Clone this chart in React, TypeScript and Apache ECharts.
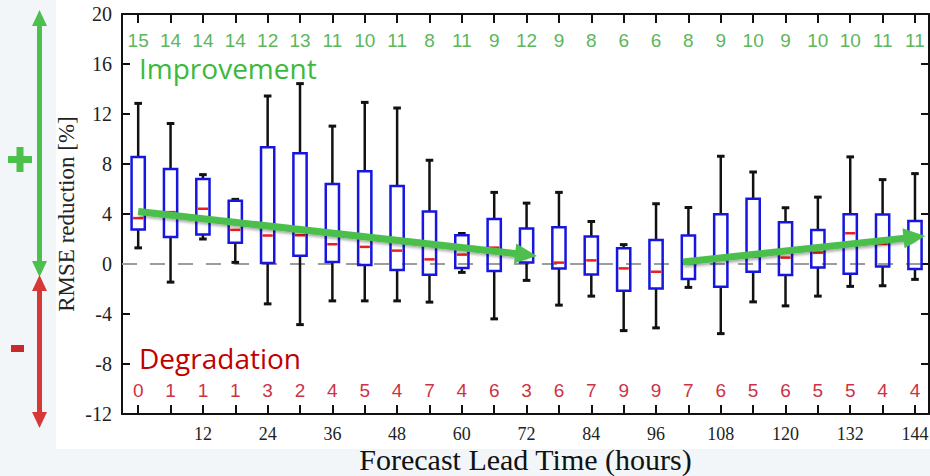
import React, { useEffect, useRef } from "react";
import * as echarts from "echarts";

// ---- data ----
const hours = [0, 6, 12, 18, 24, 30, 36, 42, 48, 54, 60, 66, 72, 78, 84, 90, 96, 102, 108, 114, 120, 126, 132, 138, 144];
const whiskerHigh = [12.85, 11.24, 7.15, 5.17, 13.44, 14.43, 11.03, 12.93, 12.48, 8.3, 2.44, 5.73, 4.87, 5.73, 3.4, 1.55, 4.82, 4.52, 8.62, 7.36, 4.5, 5.35, 8.57, 6.75, 7.23];
const upperQuartile = [8.57, 7.6, 6.8, 5.06, 9.34, 8.86, 6.4, 7.42, 6.24, 4.2, 2.3, 3.61, 2.84, 2.95, 2.2, 1.26, 1.93, 2.28, 3.99, 5.22, 3.35, 2.73, 3.99, 3.96, 3.45];
const medians = [3.67, 4.15, 4.42, 2.73, 2.28, 2.3, 1.58, 1.37, 1.07, 0.37, 0.75, 1.31, 0.7, 0.11, 0.29, -0.35, -0.62, 0.2, 0.5, 0.59, 0.51, 0.91, 2.46, 1.6, 2.2];
const lowerQuartile = [2.76, 2.17, 2.36, 1.71, 0.08, 0.67, 0.16, -0.08, -0.48, -0.86, -0.32, -0.56, 0.13, -0.35, -0.83, -2.14, -1.95, -1.2, -1.82, -0.62, -0.88, -0.27, -0.78, -0.19, -0.4];
const whiskerLow = [1.29, -1.45, 2.0, 0.13, -3.19, -4.85, -2.95, -2.95, -2.95, -3.05, -0.67, -4.39, -1.31, -3.29, -2.57, -5.33, -5.11, -1.87, -5.57, -3.03, -3.35, -2.57, -1.79, -1.74, -1.23];
const improvementCounts = [15, 14, 14, 14, 12, 13, 11, 10, 11, 8, 11, 9, 12, 9, 8, 6, 6, 8, 9, 10, 9, 10, 10, 11, 11];
const degradationCounts = [0, 1, 1, 1, 3, 2, 4, 5, 4, 7, 4, 6, 3, 6, 7, 9, 9, 7, 6, 5, 6, 5, 5, 4, 4];
const xTickLabels = [12, 24, 36, 48, 60, 72, 84, 96, 108, 120, 132, 144];
const trendDown = [[0, 4.2], [71.9, 0.74]];
const trendUp = [[101, 0.16], [143.9, 2.15]];

const X_MIN = -3;
const X_MAX = 146.6;
const IMPROVE_ROW = 17.9;
const DEGRADE_ROW = -10.15;
const BOX_HOURS = 2.45;

const SERIF = "Liberation Serif";
const SANS = "Liberation Sans";

export default function App() {
  const ref = useRef<HTMLDivElement>(null);

  useEffect(() => {
    if (!ref.current) return;
    const chart = echarts.init(ref.current, null, { renderer: "svg" });

    const boxData = hours.map((h, i) => [h, whiskerLow[i], lowerQuartile[i], medians[i], upperQuartile[i], whiskerHigh[i]]);

    const countSeries = (counts: number[], row: number, color: string, name: string) => ({
      type: "custom",
      name,
      xAxisIndex: 0,
      yAxisIndex: 0,
      data: hours.map((h, i) => [h, row, counts[i]]),
      encode: { x: 0, y: 1 },
      z: 5,
      silent: true,
      renderItem: (params: any, api: any) => {
        const p = api.coord([api.value(0), api.value(1)]);
        return {
          type: "text",
          style: {
            text: String(api.value(2)),
            x: p[0],
            y: p[1],
            align: "center",
            verticalAlign: "middle",
            fill: color,
            fontSize: 19,
            lineHeight: 16,
            fontFamily: SANS,
          },
        };
      },
    });

    const axisLineStyle = { color: "#111", width: 2 };

    const option: any = {
      animation: false,
      grid: { left: 122, right: 1, top: 14, bottom: 62, containLabel: false, outerBoundsMode: "none" },
      xAxis: [
        {
          type: "value",
          position: "bottom",
          min: X_MIN,
          max: X_MAX,
          axisLine: { show: true, onZero: false, lineStyle: axisLineStyle },
          axisTick: { show: true, inside: true, length: 9, customValues: hours, lineStyle: { color: "#111", width: 2 } },
          axisLabel: { show: true, customValues: xTickLabels, margin: 11, color: "#222", fontFamily: SERIF, fontSize: 18 },
          splitLine: { show: false },
          name: "Forecast Lead Time (hours)",
          nameLocation: "middle",
          nameGap: 30,
          nameMoveOverlap: false,
          nameTextStyle: { fontFamily: SERIF, fontSize: 30, lineHeight: 30, color: "#111" },
        },
        {
          type: "value",
          position: "top",
          min: X_MIN,
          max: X_MAX,
          axisLine: { show: true, onZero: false, lineStyle: axisLineStyle },
          axisTick: { show: true, inside: true, length: 9, customValues: hours, lineStyle: { color: "#111", width: 2 } },
          axisLabel: { show: false },
          splitLine: { show: false },
        },
      ],
      yAxis: [
        {
          type: "value",
          position: "left",
          min: -12,
          max: 20,
          interval: 4,
          axisLine: { show: true, onZero: false, lineStyle: axisLineStyle },
          axisTick: { show: true, inside: true, length: 8, lineStyle: { color: "#111", width: 2 } },
          axisLabel: { show: true, margin: 10, color: "#222", fontFamily: SERIF, fontSize: 20 },
          splitLine: { show: false },
          name: "RMSE reduction [%]",
          nameLocation: "middle",
          nameRotate: 90,
          nameGap: 44,
          nameMoveOverlap: false,
          nameTextStyle: { fontFamily: SERIF, fontSize: 23, color: "#222" },
        },
        {
          type: "value",
          position: "right",
          min: -12,
          max: 20,
          interval: 4,
          axisLine: { show: true, onZero: false, lineStyle: axisLineStyle },
          axisTick: { show: true, inside: true, length: 8, lineStyle: { color: "#111", width: 2 } },
          axisLabel: { show: false },
          splitLine: { show: false },
        },
      ],
      series: [
        {
          type: "line",
          name: "zero",
          xAxisIndex: 0,
          yAxisIndex: 0,
          data: [[X_MIN, 0], [X_MAX, 0]],
          symbol: "none",
          silent: true,
          z: 1,
          lineStyle: { color: "#9c9c9c", width: 2, type: [15, 13] },
        },
        {
          type: "custom",
          name: "boxes",
          xAxisIndex: 0,
          yAxisIndex: 0,
          data: boxData,
          encode: { x: 0, y: [1, 2, 3, 4, 5] },
          z: 3,
          silent: true,
          renderItem: (params: any, api: any) => {
            const x = api.value(0);
            const lo = api.coord([x, api.value(1)]);
            const q1 = api.coord([x, api.value(2)]);
            const md = api.coord([x, api.value(3)]);
            const q3 = api.coord([x, api.value(4)]);
            const hi = api.coord([x, api.value(5)]);
            const w = api.size([BOX_HOURS, 0])[0];
            const cx = hi[0];
            const black = { stroke: "#111", lineWidth: 2.5 };
            return {
              type: "group",
              children: [
                { type: "line", shape: { x1: cx, y1: hi[1], x2: cx, y2: q3[1] }, style: black },
                { type: "line", shape: { x1: cx, y1: q1[1], x2: cx, y2: lo[1] }, style: black },
                { type: "line", shape: { x1: cx - 3.8, y1: hi[1], x2: cx + 3.8, y2: hi[1] }, style: { stroke: "#111", lineWidth: 3 } },
                { type: "line", shape: { x1: cx - 3.8, y1: lo[1], x2: cx + 3.8, y2: lo[1] }, style: { stroke: "#111", lineWidth: 3 } },
                {
                  type: "rect",
                  shape: { x: cx - w / 2, y: q3[1], width: w, height: q1[1] - q3[1] },
                  style: { fill: "none", stroke: "#1616e0", lineWidth: 2.5 },
                },
                {
                  type: "line",
                  shape: { x1: cx - w / 2 + 1.5, y1: md[1], x2: cx + w / 2 - 1.5, y2: md[1] },
                  style: { stroke: "#ee1c1c", lineWidth: 2.5 },
                },
              ],
            };
          },
        },
        countSeries(improvementCounts, IMPROVE_ROW, "#5cb65c", "improved"),
        countSeries(degradationCounts, DEGRADE_ROW, "#cc3344", "degraded"),
        {
          type: "line",
          name: "trends",
          xAxisIndex: 0,
          yAxisIndex: 0,
          data: [],
          z: 6,
          markLine: {
            silent: true,
            animation: false,
            symbol: ["none", "triangle"],
            symbolSize: [20, 22],
            label: { show: false },
            lineStyle: {
              color: "#4cbf4c",
              width: 7,
              type: "solid",
              shadowBlur: 3,
              shadowColor: "rgba(0,0,0,0.35)",
              shadowOffsetY: 2,
              shadowOffsetX: 1,
            },
            emphasis: { disabled: true },
            data: [
              [{ coord: trendDown[0] }, { coord: trendDown[1] }],
              [{ coord: trendUp[0] }, { coord: trendUp[1] }],
            ],
          },
        },
      ],
      graphic: [
        {
          type: "text",
          left: 139,
          top: 53,
          style: { text: "Improvement", fill: "#3cb93c", fontSize: 28, lineHeight: 30, fontFamily: "Open Sans" },
        },
        {
          type: "text",
          left: 139,
          top: 343,
          style: { text: "Degradation", fill: "#c00000", fontSize: 28, lineHeight: 30, fontFamily: "Open Sans" },
        },
        // green up/down arrow
        { type: "line", shape: { x1: 39.5, y1: 22, x2: 39.5, y2: 264 }, style: { stroke: "#4cbf4c", lineWidth: 5 } },
        { type: "polygon", shape: { points: [[39.5, 10], [32, 26], [47, 26]] }, style: { fill: "#4cbf4c" } },
        { type: "polygon", shape: { points: [[39.5, 277], [32, 261], [47, 261]] }, style: { fill: "#4cbf4c" } },
        // red up/down arrow
        { type: "line", shape: { x1: 39.5, y1: 288, x2: 39.5, y2: 416 }, style: { stroke: "#d63838", lineWidth: 5 } },
        { type: "polygon", shape: { points: [[39.5, 275], [32, 291], [47, 291]] }, style: { fill: "#d63838" } },
        { type: "polygon", shape: { points: [[39.5, 428], [32, 412], [47, 412]] }, style: { fill: "#d63838" } },
        // plus sign
        { type: "rect", shape: { x: 8, y: 156, width: 24, height: 7 }, style: { fill: "#4cbf4c" } },
        { type: "rect", shape: { x: 16.5, y: 147, width: 7, height: 25 }, style: { fill: "#4cbf4c" } },
        // minus sign
        { type: "rect", shape: { x: 11, y: 345, width: 13, height: 7 }, style: { fill: "#c82a2a" } },
      ],
    };

    chart.setOption(option);
    return () => chart.dispose();
  }, []);

  return (
    <div style={{ position: "fixed", left: 0, top: 0, width: 930, height: 476, background: "#f2f6f8", overflow: "hidden" }}>
      <div style={{ position: "absolute", left: 56, top: 0, width: 874, height: 449, background: "#ffffff" }} />
      <div ref={ref} style={{ position: "absolute", left: 0, top: 0, width: 930, height: 476 }} />
    </div>
  );
}
